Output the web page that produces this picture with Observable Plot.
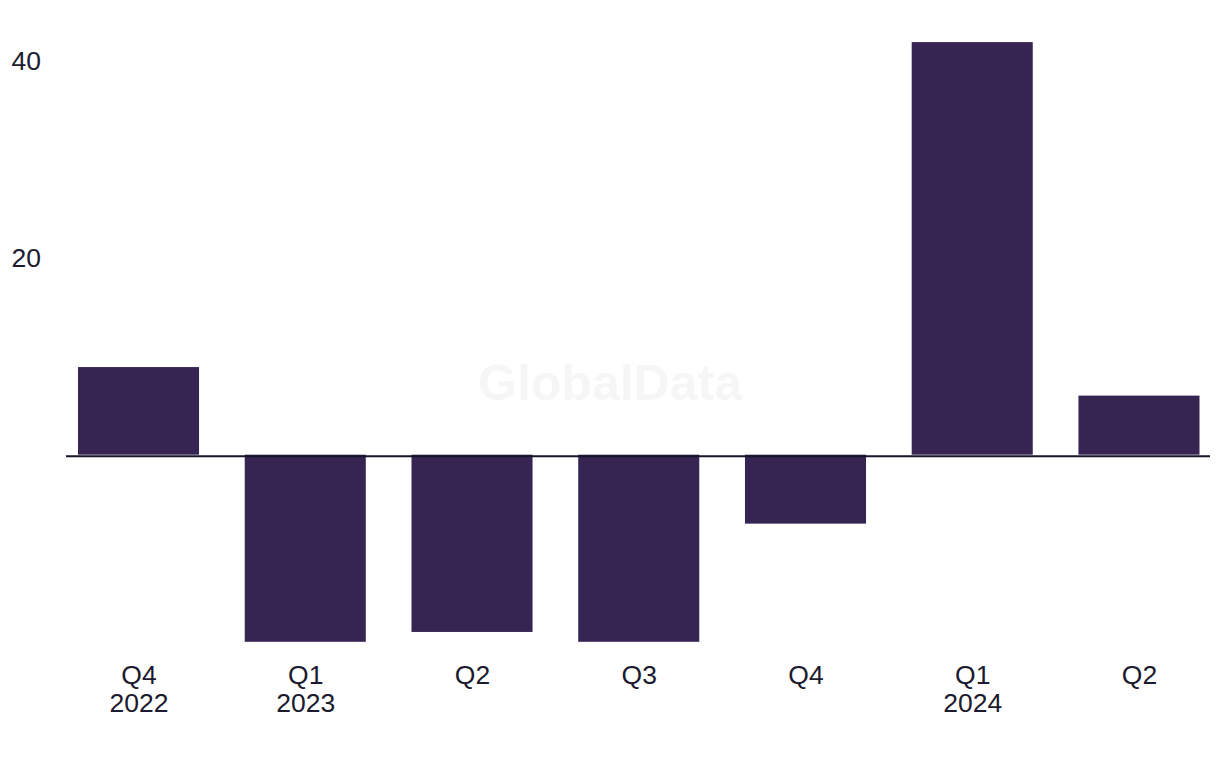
<!DOCTYPE html>
<html>
<head>
<meta charset="utf-8">
<script src="https://cdn.jsdelivr.net/npm/d3@7"></script>
<script src="https://cdn.jsdelivr.net/npm/@observablehq/plot@0.6"></script>
<style>
  html, body { margin: 0; padding: 0; background: #fff; }
  #wrap { position: relative; width: 1220px; height: 768px; }
  #wm { position: absolute; left: 0; top: 350px; width: 1220px; text-align: center;
        font: bold 50px "Liberation Sans", Arial, sans-serif; color: #f6f6f6; line-height: 66px; }
  #chart { position: absolute; left: 0; top: 0; }
</style>
</head>
<body>
<div id="wrap"><div id="wm">GlobalData</div><div id="chart"></div></div>
<script>
const quarters = ["Q4 2022", "Q1 2023", "Q2 2023", "Q3 2023", "Q4 2023", "Q1 2024", "Q2 2024"];
const tickLabels = ["Q4\n2022", "Q1\n2023", "Q2", "Q3", "Q4", "Q1\n2024", "Q2"];
const values = [8.9, -19.0, -18.0, -19.0, -7.0, 41.9, 6.0];
const yTicks = [20, 40];

const data = quarters.map((q, i) => ({q, v: values[i]}));
const labelOf = new Map(quarters.map((q, i) => [q, tickLabels[i]]));

const font = "'Liberation Sans', Arial, sans-serif";
const chart = Plot.plot({
  width: 1220,
  height: 768,
  marginLeft: 66,
  marginRight: 10,
  marginTop: 0,
  marginBottom: 118,
  style: {fontFamily: font, fontSize: "26px", color: "#1b1a2e", background: "transparent"},
  x: {type: "band", domain: quarters, range: [78, 1199.5], paddingInner: 0.274, paddingOuter: 0, align: 0.5, round: false},
  y: {domain: [0, 40], range: [454.7, 60.8]},
  marks: [
    Plot.barY(data, {x: "q", y: "v", fill: "#362553"}),
    Plot.ruleY([0], {stroke: "#16142a", strokeWidth: 2, dy: 1}),
    Plot.axisY(yTicks, {anchor: "left", tickSize: 0, tickPadding: 55, textAnchor: "start", fontSize: 26.5, fill: "#1b1a2e", label: null}),
    Plot.axisX({anchor: "bottom", tickSize: 0, tickPadding: 13, fontSize: 26.5, lineHeight: 1.07, fill: "#1b1a2e", tickFormat: d => labelOf.get(d), label: null})
  ]
});
document.getElementById("chart").appendChild(chart);
</script>
</body>
</html>
